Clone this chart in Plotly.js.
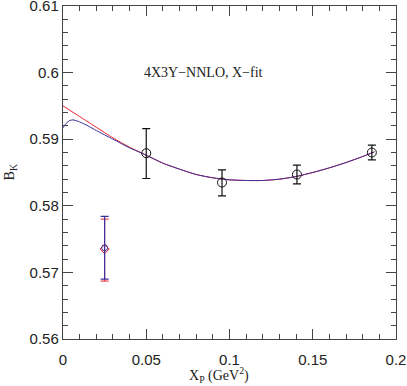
<!DOCTYPE html>
<html>
<head>
<meta charset="utf-8">
<script src="https://cdn.plot.ly/plotly-3.0.1.min.js"></script>
<style>
  html, body { margin: 0; padding: 0; background: #fff; }
  #plot { width: 407px; height: 386px; }
</style>
</head>
<body>
<div id="plot"></div>
<script>
// lattice data points (X_P, B_K, errors)
var dataX = [0.05, 0.0955, 0.1405, 0.1855];
var dataY = [0.5879, 0.5835, 0.5847, 0.5880];
var dataErrHi = [0.0037, 0.0019, 0.0014, 0.0011];
var dataErrLo = [0.0038, 0.0020, 0.0014, 0.0011];

// extrapolated point, blue and red
var extX = [0.025];
var extBlueY = [0.5737];
var extBlueHi = [0.0047];
var extBlueLo = [0.0047];
var extRedY = [0.5735];
var extRedHi = [0.0045];
var extRedLo = [0.0048];

// fit curves
var redX = [0, 0.01, 0.02, 0.03, 0.04, 0.05, 0.06, 0.07, 0.08, 0.09, 0.10,
            0.11, 0.12, 0.13, 0.14, 0.15, 0.16, 0.17, 0.18, 0.187];
var redY = [0.5950, 0.5934, 0.5918, 0.5902, 0.5888, 0.5876, 0.5864, 0.5855, 0.5847, 0.5842, 0.5839,
            0.5838, 0.5838, 0.5840, 0.5844, 0.5850, 0.5857, 0.5865, 0.5874, 0.5881];
var blueX = [0, 0.002, 0.004, 0.006, 0.01, 0.015, 0.02, 0.03, 0.04, 0.05, 0.06, 0.07, 0.08, 0.09, 0.10,
             0.11, 0.12, 0.13, 0.14, 0.15, 0.16, 0.17, 0.18, 0.187];
var blueY = [0.5917, 0.5924, 0.5928, 0.5929, 0.5926, 0.5920, 0.5913, 0.5900, 0.5887, 0.5876, 0.5864, 0.5855, 0.5847, 0.5842, 0.5839,
             0.5838, 0.5838, 0.5840, 0.5844, 0.5850, 0.5857, 0.5865, 0.5874, 0.5881];

var red = "#f0202a";
var blue = "#3a2f9c";

var traces = [
  {
    x: redX, y: redY, mode: "lines", type: "scatter",
    line: { color: red, width: 1, shape: "spline", smoothing: 0.6 },
    hoverinfo: "skip"
  },
  {
    x: blueX, y: blueY, mode: "lines", type: "scatter",
    line: { color: blue, width: 1, shape: "spline", smoothing: 0.6 },
    hoverinfo: "skip"
  },
  {
    x: dataX, y: dataY, mode: "markers", type: "scatter",
    marker: { symbol: "circle-open", size: 9, color: "#111", line: { width: 1, color: "#111" } },
    error_y: { type: "data", symmetric: false, array: dataErrHi, arrayminus: dataErrLo,
               color: "#111", thickness: 1.2, width: 4 }
  },
  {
    x: extX, y: extRedY, mode: "markers", type: "scatter",
    marker: { symbol: "diamond-open", size: 7, color: red, line: { width: 1, color: red } },
    error_y: { type: "data", symmetric: false, array: extRedHi, arrayminus: extRedLo,
               color: red, thickness: 1, width: 4 }
  },
  {
    x: extX, y: extBlueY, mode: "markers", type: "scatter",
    marker: { symbol: "circle-open", size: 6, color: blue, line: { width: 1, color: blue } },
    error_y: { type: "data", symmetric: false, array: extBlueHi, arrayminus: extBlueLo,
               color: blue, thickness: 1.2, width: 4 }
  }
];

var axisFont = { family: "Liberation Sans, Arial, sans-serif", size: 15, color: "#222" };
var serifFont = { family: "Liberation Serif, serif", size: 14, color: "#222" };

var layout = {
  width: 407,
  height: 386,
  margin: { l: 63, r: 11, t: 6, b: 47 },
  paper_bgcolor: "#fff",
  plot_bgcolor: "#fff",
  showlegend: false,
  xaxis: {
    range: [-0.000001, 0.200001],
    tickvals: [0, 0.05, 0.1, 0.15, 0.2],
    ticktext: ["0", "0.05", "0.1", "0.15", "0.2"],
    ticks: "inside", ticklen: 10, tickwidth: 1, tickcolor: "#444",
    ticklabelstandoff: 7, ticklabeloverflow: "allow",
    minor: { dtick: 0.01, tick0: 0, ticks: "inside", ticklen: 5, tickcolor: "#444", showgrid: false },
    showline: true, linecolor: "#444", linewidth: 1.2, mirror: "ticks",
    showgrid: false, zeroline: false,
    tickfont: axisFont
  },
  yaxis: {
    range: [0.5599999, 0.6100001],
    tickvals: [0.56, 0.57, 0.58, 0.59, 0.6, 0.61],
    ticktext: ["0.56", "0.57", "0.58", "0.59", "0.6", "0.61"],
    ticks: "inside", ticklen: 10, tickwidth: 1, tickcolor: "#444",
    ticklabeloverflow: "allow",
    minor: { dtick: 0.002, tick0: 0.56, ticks: "inside", ticklen: 5, tickcolor: "#444", showgrid: false },
    showline: true, linecolor: "#444", linewidth: 1.2, mirror: "ticks",
    showgrid: false, zeroline: false,
    tickfont: axisFont
  },
  annotations: [
    {
      text: "4X3Y\u2212NNLO, X\u2212fit",
      xref: "x", yref: "y", x: 0.0843, y: 0.6000,
      showarrow: false,
      font: serifFont
    },
    {
      text: "X<sub>P</sub> (GeV<sup>2</sup>)",
      xref: "paper", yref: "paper", x: 0.468, y: -0.108,
      yanchor: "middle", showarrow: false,
      font: serifFont
    },
    {
      text: "B<sub>K</sub>",
      xref: "paper", yref: "paper", x: -0.188, y: 0.5,
      textangle: -90, showarrow: false,
      font: serifFont
    }
  ]
};

Plotly.newPlot("plot", traces, layout, { staticPlot: true });
</script>
</body>
</html>
